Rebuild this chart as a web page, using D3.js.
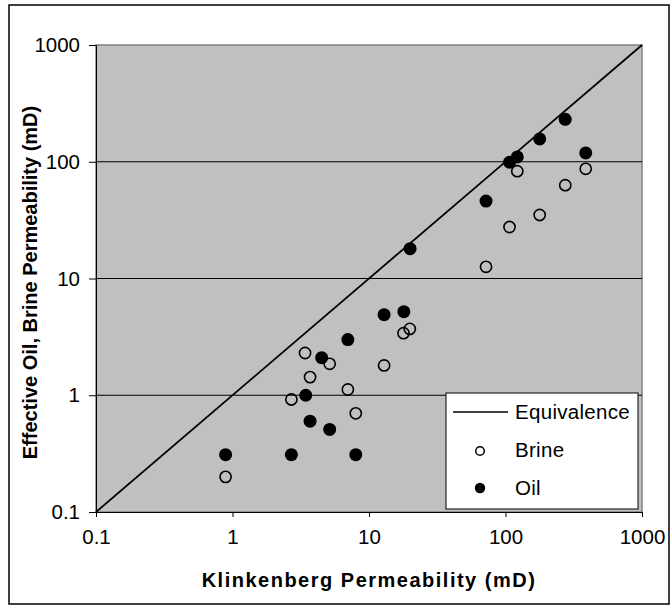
<!DOCTYPE html>
<meta charset="utf-8">
<script src="https://d3js.org/d3.v7.min.js"></script>
<style>
  body { margin: 0; background: #fff; }
  text { font-family: "Liberation Sans", Arial, sans-serif; }
</style>
<div id="vis"></div>
<script>

    // data (Klinkenberg perm vs effective perm, mD)
    var oilK   = [0.89, 2.7, 8.0, 3.44, 3.7, 5.15, 4.5, 7.0, 12.9, 18, 20, 72, 107, 122, 178, 274, 387];
    var oilEff = [0.31, 0.31, 0.31, 1.0, 0.6, 0.51, 2.1, 3.0, 4.9, 5.2, 18, 46, 99, 110, 157, 231, 119];
    var brineK   = [0.89, 2.7, 3.4, 3.7, 5.15, 7.0, 8.0, 12.9, 17.9, 19.9, 72, 107, 122, 178, 274, 387];
    var brineEff = [0.2, 0.92, 2.3, 1.43, 1.86, 1.12, 0.7, 1.8, 3.4, 3.7, 12.6, 27.6, 83, 35, 63, 87];
    var equivLine = [0.1, 1000];
    var tickVals = [0.1, 1, 10, 100, 1000];
    var tickLabels = ["0.1", "1", "10", "100", "1000"];
    var legendNames = ["Equivalence", "Brine", "Oil"];

    var W = 671, H = 606;
    var margin = { top: 45, right: 29, bottom: 94, left: 96 },
        width = W - margin.left - margin.right,
        height = H - margin.top - margin.bottom;

    var svg = d3.select("#vis")
        .append("svg")
        .attr("width", W)
        .attr("height", H);

    // outer chart border
    svg.append("rect")
        .attr("x", 9).attr("y", 5)
        .attr("width", 660).attr("height", 599)
        .attr("fill", "white")
        .attr("stroke", "black")
        .attr("stroke-width", 1.5);

    var g = svg.append("g")
        .attr("transform", "translate(" + margin.left + "," + margin.top + ")");

    var x = d3.scaleLog().domain([0.1, 1000]).range([0, width]);
    var y = d3.scaleLog().domain([0.1, 1000]).range([height, 0]);

    // plot area
    g.append("rect")
        .attr("width", width).attr("height", height)
        .attr("fill", "#c0c0c0")
        .attr("stroke", "#808080")
        .attr("stroke-width", 1.5);

    // horizontal gridlines
    g.selectAll(".grid")
        .data(tickVals.slice(1, 4))
        .enter().append("line")
        .attr("x1", 0).attr("x2", width)
        .attr("y1", function (d) { return y(d) })
        .attr("y2", function (d) { return y(d) })
        .attr("stroke", "black")
        .attr("stroke-width", 1);

    // axes
    var xAxis = g.append("g")
        .attr("transform", "translate(0," + height + ")")
        .call(d3.axisBottom(x).tickValues(tickVals).tickFormat(function (d, i) { return tickLabels[i] }).tickSizeOuter(0).tickSize(5).tickPadding(12));
    xAxis.selectAll("text").style("font-size", "20.5px").attr("fill", "black");
    xAxis.selectAll("line").attr("stroke", "black");
    xAxis.select(".domain").attr("stroke", "black");

    var yAxis = g.append("g")
        .call(d3.axisLeft(y).tickValues(tickVals).tickFormat(function (d, i) { return tickLabels[i] }).tickSizeOuter(0).tickSize(7).tickPadding(9));
    yAxis.selectAll("text").style("font-size", "20.5px").attr("fill", "black");
    yAxis.selectAll("line").attr("stroke", "black");
    yAxis.select(".domain").attr("stroke", "black");

    // equivalence line
    g.append("line")
        .attr("x1", x(equivLine[0])).attr("y1", y(equivLine[0]))
        .attr("x2", x(equivLine[1])).attr("y2", y(equivLine[1]))
        .attr("stroke", "black")
        .attr("stroke-width", 1.8);

    // brine points (open)
    g.selectAll(".brine")
        .data(brineK)
        .enter().append("circle")
        .attr("cx", function (d) { return x(d) })
        .attr("cy", function (d, i) { return y(brineEff[i]) })
        .attr("r", 5.6)
        .attr("fill", "none")
        .attr("stroke", "black")
        .attr("stroke-width", 1.6);

    // oil points (filled)
    g.selectAll(".oil")
        .data(oilK)
        .enter().append("circle")
        .attr("cx", function (d) { return x(d) })
        .attr("cy", function (d, i) { return y(oilEff[i]) })
        .attr("r", 6.5)
        .attr("fill", "black");

    // legend
    var lg = svg.append("g").attr("transform", "translate(446,393)");
    lg.append("rect")
        .attr("width", 192).attr("height", 116)
        .attr("fill", "white")
        .attr("stroke", "black")
        .attr("stroke-width", 1);
    lg.append("line")
        .attr("x1", 7).attr("x2", 62)
        .attr("y1", 19).attr("y2", 19)
        .attr("stroke", "black").attr("stroke-width", 1.5);
    lg.append("circle")
        .attr("cx", 34).attr("cy", 58).attr("r", 4.3)
        .attr("fill", "none").attr("stroke", "black").attr("stroke-width", 1.5);
    lg.append("circle")
        .attr("cx", 34).attr("cy", 95).attr("r", 5.2)
        .attr("fill", "black");
    lg.selectAll(".lt")
        .data(legendNames)
        .enter().append("text")
        .attr("x", 69)
        .attr("y", function (d, i) { return 19 + i * 38 })
        .attr("dy", "0.35em")
        .style("font-size", "20.5px")
        .style("letter-spacing", "0.3px")
        .text(function (d) { return d });

    // axis titles
    svg.append("text")
        .attr("x", margin.left + width / 2)
        .attr("y", 587)
        .attr("text-anchor", "middle")
        .style("font-size", "20px")
        .style("font-weight", "bold")
        .style("letter-spacing", "1.5px")
        .text("Klinkenberg Permeability (mD)");

    svg.append("text")
        .attr("transform", "translate(37," + (margin.top + height / 2 + 4) + ") rotate(-90)")
        .attr("text-anchor", "middle")
        .style("font-size", "20px")
        .style("font-weight", "bold")
        .text("Effective Oil, Brine Permeability (mD)");

</script>
